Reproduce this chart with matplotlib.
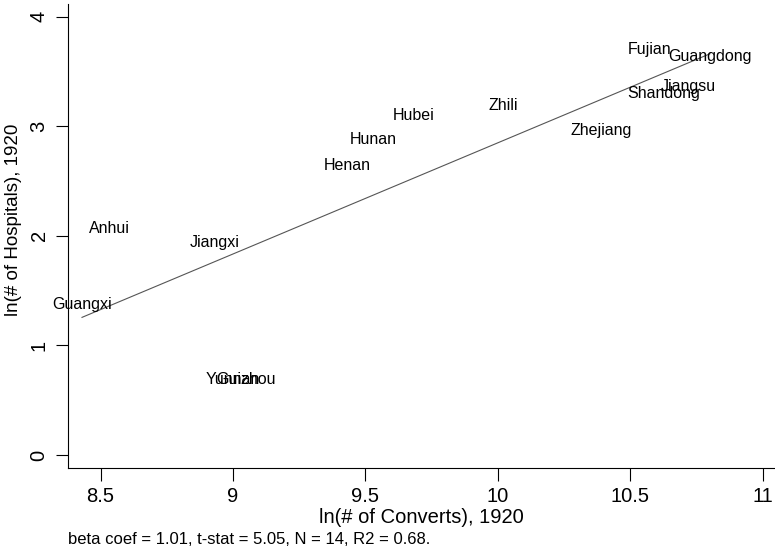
import numpy as np
import matplotlib
matplotlib.use('Agg')
import matplotlib.pyplot as plt

plt.rcParams['font.family'] = ['Liberation Sans', 'DejaVu Sans']

# province-level data
provinces = ['Guangxi', 'Anhui', 'Jiangxi', 'Yunnan', 'Guizhou', 'Henan', 'Hunan',
             'Hubei', 'Zhili', 'Zhejiang', 'Fujian', 'Shandong', 'Jiangsu', 'Guangdong']
ln_converts = [8.43, 8.535, 8.93, 9.00, 9.05, 9.43, 9.53,
               9.68, 10.02, 10.39, 10.574, 10.627, 10.718, 10.80]
ln_hospitals = [1.37, 2.07, 1.94, 0.69, 0.69, 2.64, 2.88,
                3.10, 3.19, 2.96, 3.70, 3.30, 3.36, 3.64]
xticks = [8.5, 9, 9.5, 10, 10.5, 11]
yticks = [0, 1, 2, 3, 4]
note = 'beta coef = 1.01, t-stat = 5.05, N = 14, R2 = 0.68.'

x = np.array(ln_converts)
y = np.array(ln_hospitals)
b, a = np.polyfit(x, y, 1)

fig = plt.figure(figsize=(7.75, 5.53), dpi=100)
ax = fig.add_axes([0.0877, 0.1537, 0.9123, 0.8391])

for name, xi, yi in zip(provinces, x, y):
    ax.text(xi, yi, name, ha='center', va='center', fontsize=11.5, color='black')

xs = np.array([x.min(), x.max()])
ax.plot(xs, a + b * xs, color='#555555', lw=0.8)

ax.set_xlim(8.377, 11.046)
ax.set_ylim(-0.119, 4.115)
ax.set_xticks(xticks)
ax.set_xticklabels(['8.5', '9', '9.5', '10', '10.5', '11'])
ax.set_yticks(yticks)
ax.set_yticklabels([str(t) for t in yticks], rotation=90, va='center')
ax.tick_params(direction='out', length=9, width=0.8, labelsize=14.5, pad=5)
ax.spines['top'].set_visible(False)
ax.spines['right'].set_visible(False)
ax.set_xlabel('ln(# of Converts), 1920', fontsize=14.5)
ax.xaxis.set_label_coords(0.5, -0.087)
ax.set_ylabel('ln(# of Hospitals), 1920', fontsize=13.5)
ax.yaxis.set_label_coords(-0.065, 0.534)

fig.text(68 / 775, 1 - 539 / 553, note, fontsize=12, ha='left', va='center')

plt.savefig('out.png')
